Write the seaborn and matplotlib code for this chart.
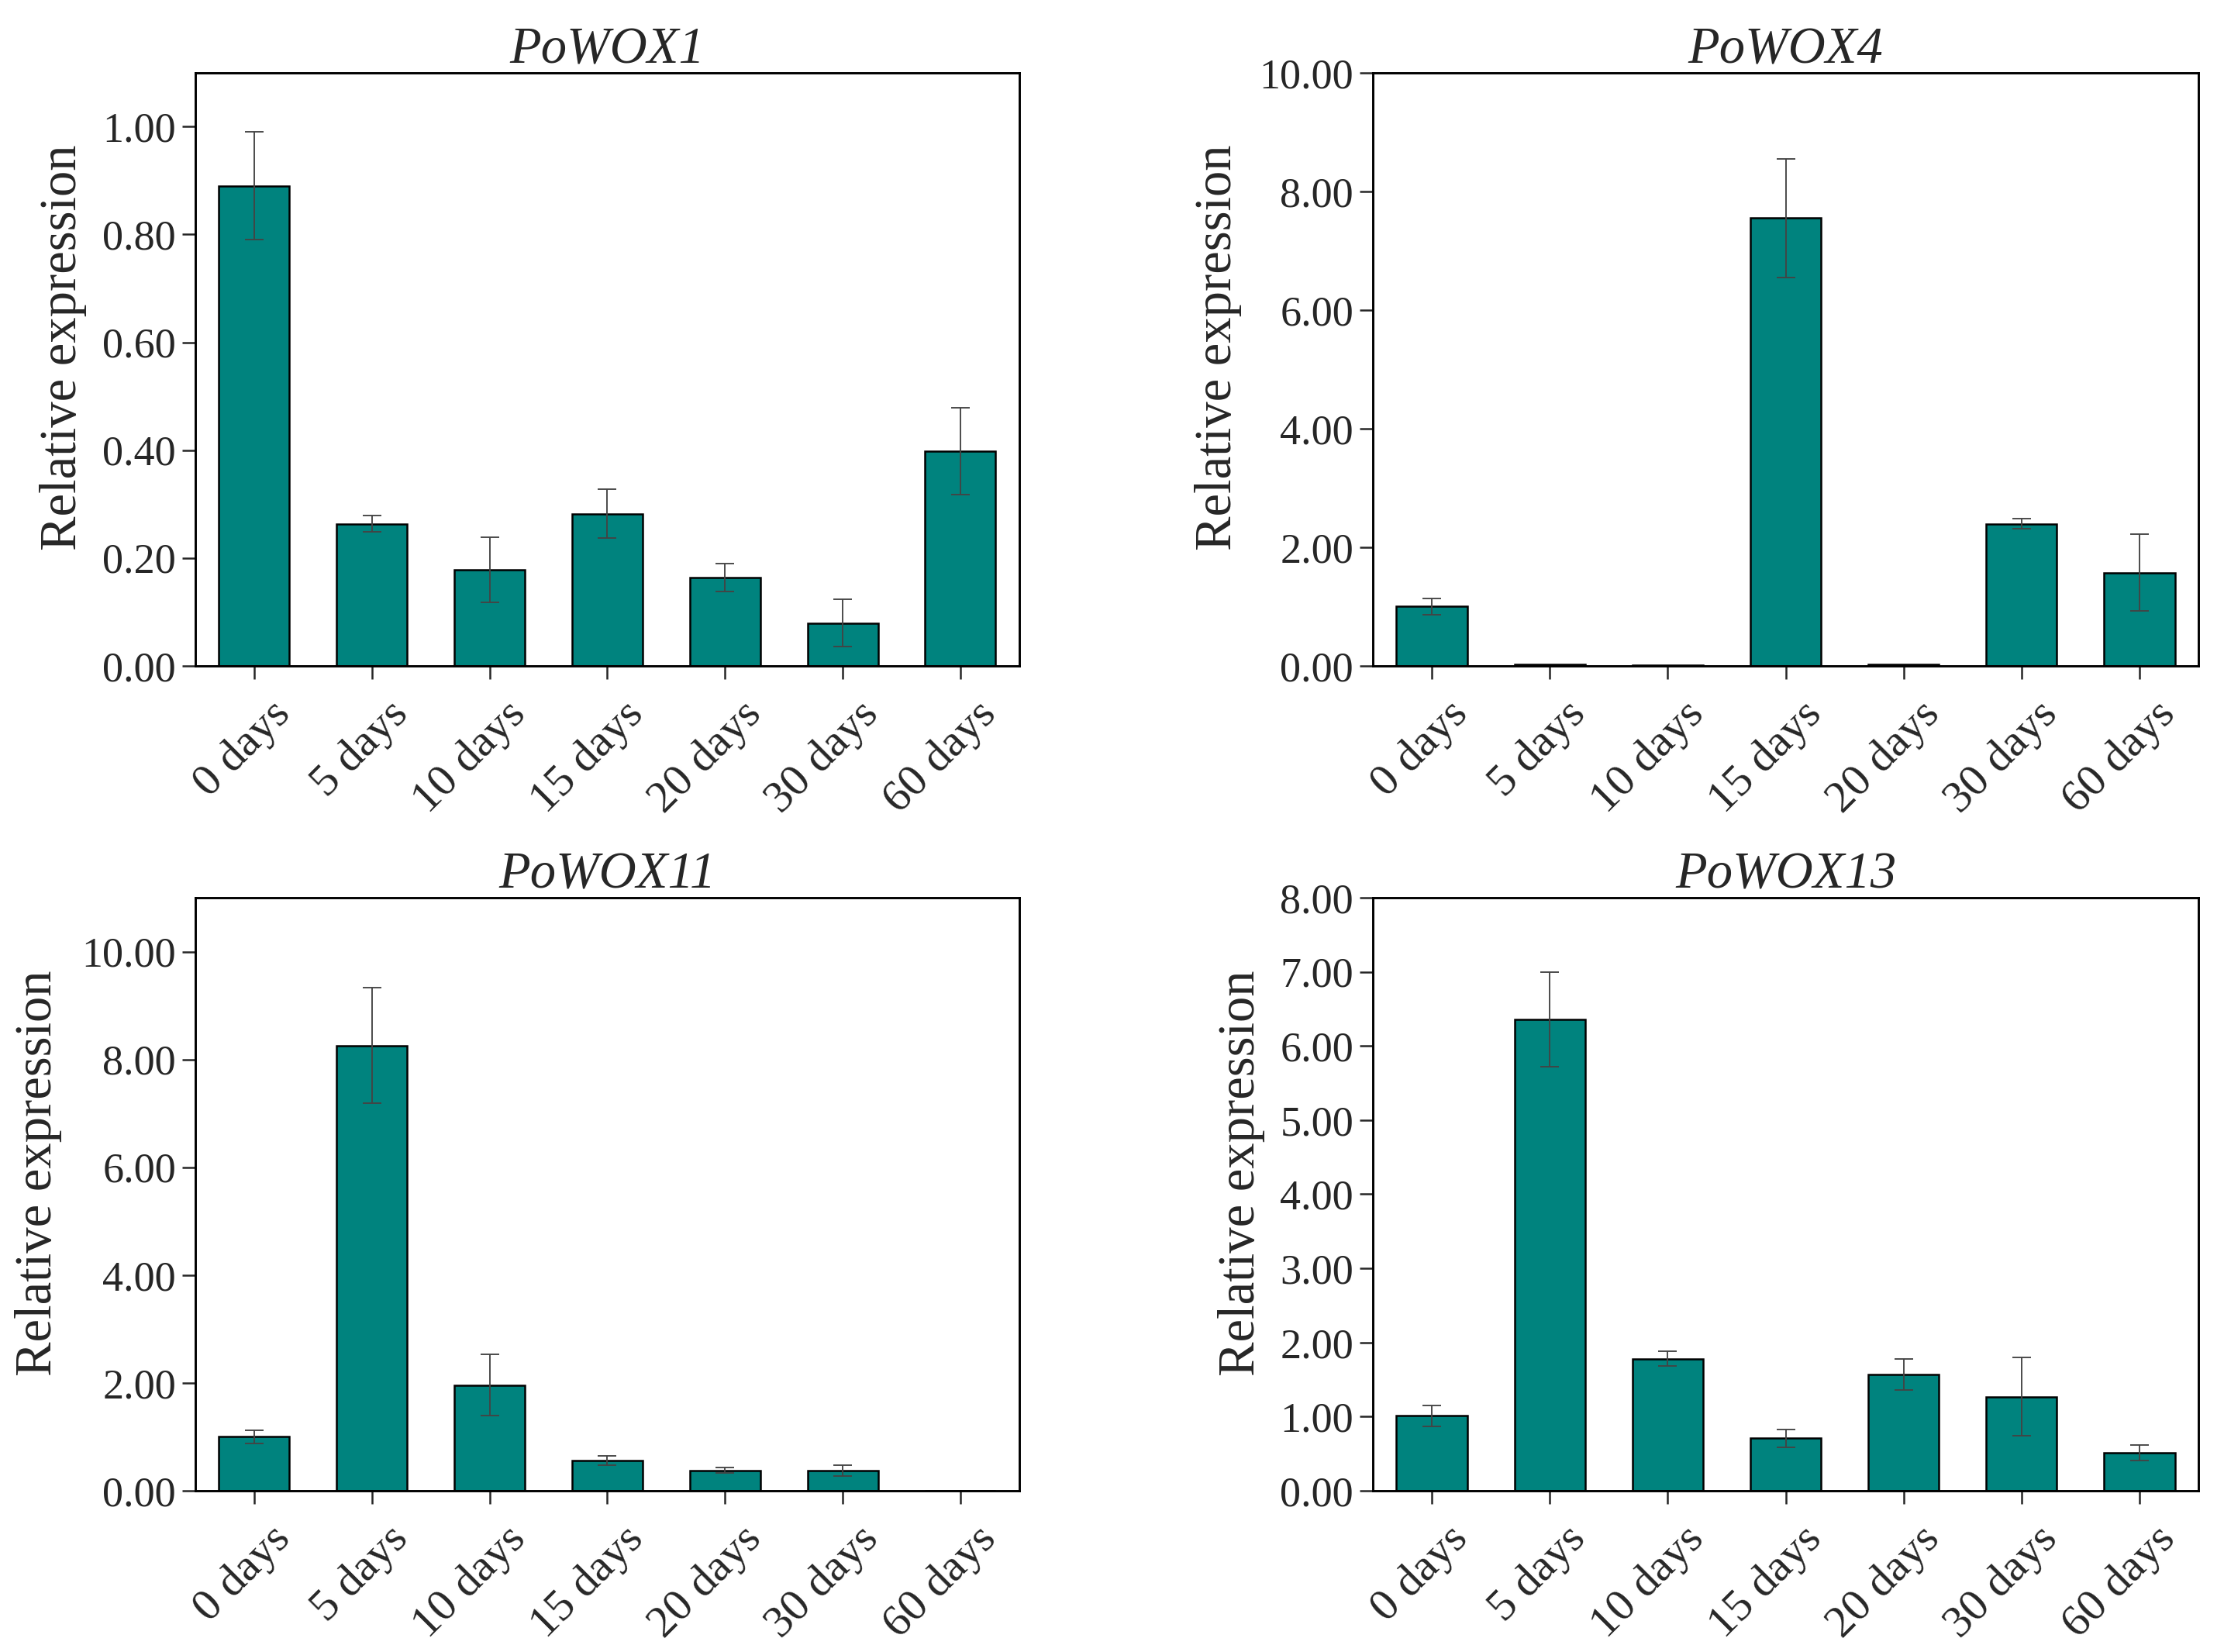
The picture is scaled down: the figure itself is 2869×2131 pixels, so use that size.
import matplotlib
matplotlib.use("Agg")
import matplotlib.pyplot as plt
import matplotlib.transforms as mtrans
import seaborn as sns
import pandas as pd
import numpy as np

days = ["0 days", "5 days", "10 days", "15 days", "20 days", "30 days", "60 days"]

wox1_mean = [0.890, 0.263, 0.178, 0.282, 0.164, 0.079, 0.398]
wox1_err = [0.100, 0.015, 0.060, 0.045, 0.026, 0.044, 0.081]

wox4_mean = [1.00, 0.02, 0.01, 7.55, 0.02, 2.39, 1.57]
wox4_err = [0.14, 0.0, 0.0, 1.00, 0.0, 0.085, 0.645]

wox11_mean = [1.00, 8.26, 1.96, 0.56, 0.38, 0.37, 0.0]
wox11_err = [0.125, 1.07, 0.57, 0.09, 0.05, 0.10, 0.0]

wox13_mean = [1.01, 6.36, 1.78, 0.71, 1.57, 1.27, 0.51]
wox13_err = [0.14, 0.64, 0.10, 0.12, 0.21, 0.53, 0.107]

titles = ["PoWOX1", "PoWOX4", "PoWOX11", "PoWOX13"]
ylims = [1.1, 10.0, 11.0, 8.0]
yticks = [np.arange(0, 1.01, 0.2), np.arange(0, 10.01, 2), np.arange(0, 10.01, 2), np.arange(0, 8.01, 1)]

sns.set_theme(style="white")
plt.rcParams['font.family'] = ['Liberation Serif', 'DejaVu Serif']
plt.rcParams['mathtext.fontset'] = 'stix'

fig = plt.figure(figsize=(2869/300, 2131/300), dpi=300)
positions = [
    [0.0878, 0.597, 0.3705, 0.359],
    [0.6173, 0.597, 0.3712, 0.359],
    [0.0878, 0.0976, 0.3705, 0.359],
    [0.6173, 0.0976, 0.3712, 0.359],
]
label_x = [-0.132, -0.159, -0.162, -0.131]
means = [wox1_mean, wox4_mean, wox11_mean, wox13_mean]
errs = [wox1_err, wox4_err, wox11_err, wox13_err]
bar_color = "#00837E"

for i in range(4):
    ax = fig.add_axes(positions[i])
    df = pd.DataFrame({"day": days, "expr": means[i]})
    sns.barplot(data=df, x="day", y="expr", ax=ax, color=bar_color, width=0.6,
                saturation=1, edgecolor="black", linewidth=0.6, errorbar=None)
    xs = [p.get_x() + p.get_width() / 2 for p in ax.patches]
    for x, m, e in zip(xs, means[i], errs[i]):
        if e > 0:
            ax.errorbar(x, m, yerr=e, fmt="none", ecolor="#444444", elinewidth=0.45,
                        capsize=2.8, capthick=0.45, zorder=5)
    ax.set_xlim(-0.5, 6.5)
    ax.set_ylim(0, ylims[i])
    ax.set_yticks(yticks[i])
    ax.set_yticklabels([f"{v:.2f}" for v in yticks[i]], fontsize=13)
    ax.set_xticks(range(len(days)))
    ax.tick_params(axis="both", which="major", direction="out", length=4, width=0.6,
                   bottom=True, left=True, top=False, right=False, pad=2)
    ax.tick_params(axis="x", pad=6)
    ax.set_xticklabels(days, rotation=45, ha="right", rotation_mode="anchor", fontsize=14)
    offset = mtrans.ScaledTranslation(20/300, 6/300, fig.dpi_scale_trans)
    for lab in ax.get_xticklabels():
        lab.set_transform(lab.get_transform() + offset)
    ax.set_xlabel("")
    ax.set_ylabel("Relative expression", fontsize=16)
    ax.yaxis.set_label_coords(label_x[i], 0.536)
    ax.set_title(titles[i], fontsize=16, style="italic", pad=3)
    for s in ax.spines.values():
        s.set_color("black")
        s.set_linewidth(0.7)
        s.set_visible(True)

fig.savefig("out.png", dpi=300, facecolor="white")
